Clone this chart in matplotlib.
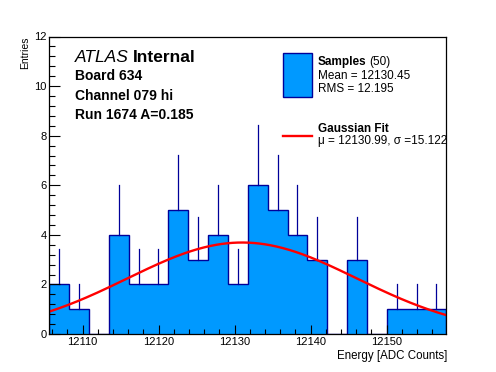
import numpy as np
import matplotlib
matplotlib.use("Agg")
import matplotlib.pyplot as plt
from matplotlib.ticker import MultipleLocator
from matplotlib.patches import Rectangle
from matplotlib.lines import Line2D

# ---- data ----
x_min, x_max = 12105.62, 12157.86
n_bins = 20
counts = [2, 1, 0, 4, 2, 2, 5, 3, 4, 2, 6, 5, 4, 3, 0, 3, 0, 1, 1, 1]
fit_mu = 12130.99
fit_sigma = 15.122
fit_amp = 3.69
n_samples = 50
mean_val = "12130.45"
rms_val = "12.195"
x_ticks = [12110, 12120, 12130, 12140, 12150]
y_ticks = [0, 2, 4, 6, 8, 10, 12]
text_lines = ["Board 634", "Channel 079 hi", "Run 1674 A=0.185"]

FILL = "#0099ff"
EDGE = "#000099"
RED = "#ff0000"

plt.rcParams['font.family'] = ['Liberation Sans', 'DejaVu Sans']

fig = plt.figure(figsize=(4.96, 3.72), dpi=100)
W, H = 496, 372
L, R, T, B = 49.3, 446.3, 36.5, 334
ax = fig.add_axes([L / W, 1 - B / H, (R - L) / W, (B - T) / H])

edges = np.linspace(x_min, x_max, n_bins + 1)
cnt = np.array(counts, dtype=float)
centers = 0.5 * (edges[:-1] + edges[1:])

ax.stairs(cnt, edges, fill=True, color=FILL, zorder=1)
ax.stairs(cnt, edges, color=EDGE, linewidth=1.0, baseline=0, zorder=2)
for c, v in zip(centers, cnt):
    if v > 0:
        ax.plot([c, c], [v, v + np.sqrt(v)], color=EDGE, linewidth=0.9, zorder=2)

xf = np.linspace(x_min, x_max, 300)
yf = fit_amp * np.exp(-0.5 * ((xf - fit_mu) / fit_sigma) ** 2)
ax.plot(xf, yf, color=RED, linewidth=1.7, zorder=3)

ax.set_xlim(x_min, x_max)
ax.set_ylim(0, 12)
ax.set_xticks(x_ticks)
ax.set_yticks(y_ticks)
ax.xaxis.set_minor_locator(MultipleLocator(2))
ax.yaxis.set_minor_locator(MultipleLocator(0.4))
ax.tick_params(axis='both', which='both', direction='in', top=False, right=False,
               labelsize=8, width=0.8, color='black')
ax.tick_params(axis='x', which='major', length=6.5, pad=2.5)
ax.tick_params(axis='x', which='minor', length=3.5)
ax.tick_params(axis='y', which='major', length=8, pad=2)
ax.tick_params(axis='y', which='minor', length=4)
for s in ax.spines.values():
    s.set_linewidth(0.9)
    s.set_zorder(5)
ax.set_axisbelow(False)

fig.text(447 / W, 1 - 356.5 / H, "Energy [ADC Counts]", ha='right', va='center', fontsize=8.3)
fig.text(25.5 / W, 1 - 36.5 / H, "Entries", ha='center', va='top', rotation=90, fontsize=7.5)

# ATLAS label
t = fig.text(75 / W, 1 - 57 / H, "ATLAS", fontsize=12.5, style='italic', ha='left', va='center')
fig.canvas.draw()
bb = t.get_window_extent()
fig.text((bb.x1 + 4) / W, 1 - 57 / H, "Internal", fontsize=12.5, fontweight='bold', ha='left', va='center')
for i, line in enumerate(text_lines):
    fig.text(75 / W, 1 - (76.5 + 19.2 * i) / H, line, fontsize=10, fontweight='bold', ha='left', va='center')

# legend
fig.patches.append(Rectangle((283.3 / W, 1 - 96.7 / H), 28.4 / W, 43.4 / H, transform=fig.transFigure,
                             facecolor=FILL, edgecolor=EDGE, linewidth=1.0, figure=fig))
fig.lines.append(Line2D([283.3 / W, 311.7 / W], [1 - 136 / H, 1 - 136 / H], transform=fig.transFigure,
                        color=RED, linewidth=1.7, figure=fig))
ts = fig.text(317.5 / W, 1 - 62 / H, "Samples", fontsize=8.5, fontweight='bold', ha='left', va='center')
fig.canvas.draw()
bb = ts.get_window_extent()
fig.text((bb.x1 + 3) / W, 1 - 62 / H, "(%d)" % n_samples, fontsize=8.5, ha='left', va='center')
fig.text(317.5 / W, 1 - 76 / H, "Mean = " + mean_val, fontsize=8.5, ha='left', va='center')
fig.text(317.5 / W, 1 - 89.5 / H, "RMS = " + rms_val, fontsize=8.5, ha='left', va='center')
fig.text(317.5 / W, 1 - 129.5 / H, "Gaussian Fit", fontsize=8.5, fontweight='bold', ha='left', va='center')
fig.text(317.5 / W, 1 - 141 / H, "\u03bc = %.2f, \u03c3 =%.3f" % (fit_mu, fit_sigma), fontsize=8.5,
         ha='left', va='center')

fig.savefig("out.png", dpi=100)
